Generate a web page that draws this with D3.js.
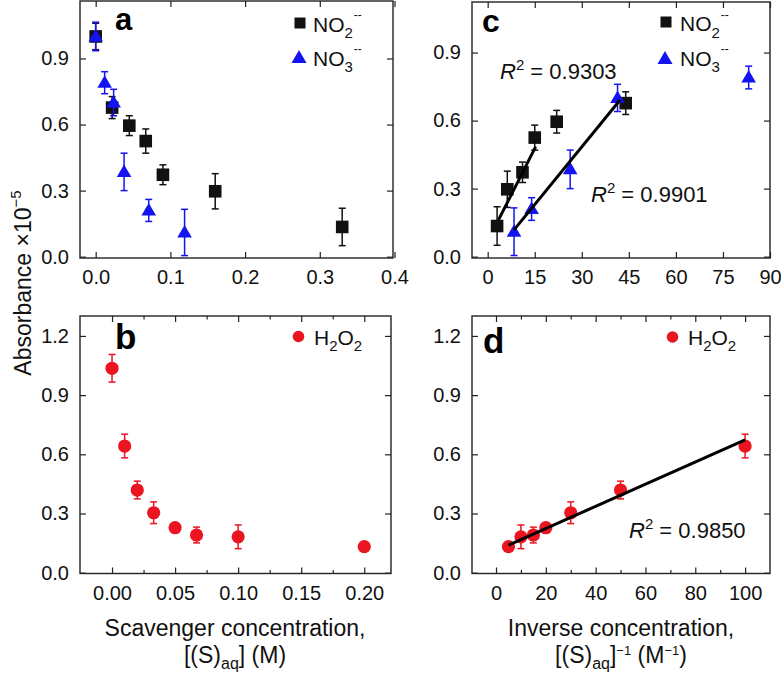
<!DOCTYPE html>
<html>
<head>
<meta charset="utf-8">
<script src="https://cdn.jsdelivr.net/npm/d3@7"></script>
<style>
  body { margin: 0; background: #fff; }
  svg { display: block; font-family: "Liberation Sans", Arial, Helvetica, sans-serif; }
</style>
</head>
<body>
<svg id="chart" width="781" height="676"></svg>
<script>
// ---- data ----
// panel a : absorbance vs scavenger concentration (M)
const aNo2X = [0, 0.022, 0.045, 0.067, 0.09, 0.16, 0.33];
const aNo2Y = [1.0, 0.677, 0.595, 0.525, 0.372, 0.297, 0.135];
const aNo2Err = [0.06, 0.05, 0.045, 0.055, 0.045, 0.08, 0.085];
const aNo3X = [0, 0.012, 0.024, 0.038, 0.071, 0.119];
const aNo3Y = [1.0, 0.79, 0.70, 0.385, 0.21, 0.11];
const aNo3Err = [0.065, 0.05, 0.06, 0.085, 0.05, 0.105];

// panel c : absorbance vs inverse concentration (1/M)
const cNo2X = [3, 6.25, 11.1, 15, 22, 44];
const cNo2Y = [0.135, 0.297, 0.372, 0.525, 0.595, 0.677];
const cNo2Err = [0.085, 0.08, 0.045, 0.055, 0.05, 0.05];
const cNo3X = [8.4, 14, 26.3, 41.4, 83.2];
const cNo3Y = [0.11, 0.21, 0.385, 0.70, 0.79];
const cNo3Err = [0.105, 0.05, 0.085, 0.06, 0.05];
const cFitNo2X = [3.45, 15.3], cFitNo2Y = [0.162, 0.485];
const cFitNo3X = [8.4, 42.2], cFitNo3Y = [0.118, 0.691];

// panel b : H2O2
const bX = [0, 0.01, 0.02, 0.033, 0.05, 0.067, 0.1, 0.2];
const bY = [1.036, 0.642, 0.419, 0.304, 0.228, 0.191, 0.182, 0.132];
const bErr = [0.07, 0.06, 0.045, 0.055, 0.02, 0.04, 0.06, 0.02];

// panel d : H2O2 vs inverse concentration
const dX = [5, 10, 15, 20, 30, 50, 100];
const dY = [0.132, 0.182, 0.191, 0.228, 0.304, 0.419, 0.642];
const dErr = [0.02, 0.06, 0.04, 0.02, 0.055, 0.045, 0.06];
const dFitX = [5, 100], dFitY = [0.14, 0.673];

// ticks
const aXTicks = [0, 0.1, 0.2, 0.3, 0.4];
const cXTicks = [0, 15, 30, 45, 60, 75, 90];
const bXTicks = [0, 0.05, 0.1, 0.15, 0.2];
const bXMinor = [0.025, 0.075, 0.125, 0.175];
const dXTicks = [0, 20, 40, 60, 80, 100];
const dXMinor = [10, 30, 50, 70, 90];
const topYTicks = [0, 0.3, 0.6, 0.9];
const botYTicks = [0, 0.3, 0.6, 0.9, 1.2];

const BLACK = "#111", BLUE = "#1414f0", RED = "#ea1520", FRAME = "#222";

const svg = d3.select("#chart");

function shape(sel, kind, color) {
  if (kind === "square") {
    sel.append("rect").attr("x", -6.3).attr("y", -6.3).attr("width", 12.6).attr("height", 12.6).attr("fill", color);
  } else if (kind === "triangle") {
    sel.append("path").attr("d", "M0,-7.5L7.3,5L-7.3,5Z").attr("fill", color);
  } else {
    sel.append("circle").attr("r", 6.6).attr("fill", color);
  }
}

function drawPanel(p) {
  const x = d3.scaleLinear().domain(p.xDomain).range([p.left, p.right]);
  const y = d3.scaleLinear().domain(p.yDomain).range([p.bottom, p.top]);
  const g = svg.append("g");
  const W = p.right - p.left, H = p.bottom - p.top;

  function styleAxis(ax) {
    ax.select(".domain").remove();
    ax.selectAll(".tick line").attr("stroke", FRAME).attr("stroke-width", 1.2);
    ax.attr("font-size", 20).attr("font-family", null).selectAll("text").attr("fill", "#111");
  }

  const bot = g.append("g").attr("transform", `translate(0,${p.bottom})`)
    .call(d3.axisBottom(x).tickValues(p.xTicks).tickFormat(p.xFmt).tickSize(-6).tickSizeOuter(0).tickPadding(12));
  styleAxis(bot);
  const top = g.append("g").attr("transform", `translate(0,${p.top})`)
    .call(d3.axisTop(x).tickValues(p.xTicks).tickFormat("").tickSize(-6).tickSizeOuter(0));
  styleAxis(top);
  if (p.xMinor) {
    styleAxis(g.append("g").attr("transform", `translate(0,${p.bottom})`)
      .call(d3.axisBottom(x).tickValues(p.xMinor).tickFormat("").tickSize(-3.5).tickSizeOuter(0)));
    styleAxis(g.append("g").attr("transform", `translate(0,${p.top})`)
      .call(d3.axisTop(x).tickValues(p.xMinor).tickFormat("").tickSize(-3.5).tickSizeOuter(0)));
  }
  const lft = g.append("g").attr("transform", `translate(${p.left},0)`)
    .call(d3.axisLeft(y).tickValues(p.yTicks).tickFormat(d3.format(".1f")).tickSize(-6).tickSizeOuter(0).tickPadding(11));
  styleAxis(lft);
  const rgt = g.append("g").attr("transform", `translate(${p.right},0)`)
    .call(d3.axisRight(y).tickValues(p.yTicks).tickFormat("").tickSize(-6).tickSizeOuter(0));
  styleAxis(rgt);

  g.append("rect").attr("x", p.left).attr("y", p.top).attr("width", W).attr("height", H)
    .attr("fill", "none").attr("stroke", FRAME).attr("stroke-width", 1.4);

  // series: error bars then markers
  p.series.forEach(s => {
    const pts = d3.zip(s.x, s.y, s.err);
    const eb = g.append("g").attr("stroke", s.color).attr("stroke-width", 1.5);
    pts.forEach(([vx, vy, e]) => {
      const cx = x(vx), y0 = y(Math.max(vy - e, p.yDomain[0])), y1 = y(vy + e);
      eb.append("line").attr("x1", cx).attr("x2", cx).attr("y1", y0).attr("y2", y1);
      eb.append("line").attr("x1", cx - 3.5).attr("x2", cx + 3.5).attr("y1", y0).attr("y2", y0);
      eb.append("line").attr("x1", cx - 3.5).attr("x2", cx + 3.5).attr("y1", y1).attr("y2", y1);
    });
    const mk = g.append("g").selectAll("g").data(pts).join("g")
      .attr("transform", d => `translate(${x(d[0])},${y(d[1])})`);
    shape(mk, s.shape, s.color);
  });

  // fitted lines
  (p.fits || []).forEach(f => {
    g.append("path").datum(d3.zip(f.x, f.y))
      .attr("d", d3.line().x(d => x(d[0])).y(d => y(d[1])))
      .attr("stroke", "#000").attr("stroke-width", 3).attr("fill", "none");
  });

  // panel letter
  g.append("text").attr("x", p.letterPos[0]).attr("y", p.letterPos[1])
    .attr("font-size", p.letterSize).attr("font-weight", "bold").attr("fill", "#000").text(p.letter);

  return { g, x, y };
}

function r2(g, px, py, val) {
  const t = g.append("text").attr("x", px).attr("y", py).attr("font-size", 22).attr("fill", "#111");
  t.append("tspan").attr("font-style", "italic").text("R");
  t.append("tspan").attr("font-size", 15).attr("dy", -9).text("2");
  t.append("tspan").attr("dy", 9).text(" = " + val);
}

function ionLegend(g, mx, my, shp, color, tx, ty, sub) {
  const m = g.append("g").attr("transform", `translate(${mx},${my})`);
  if (shp === "square") m.append("rect").attr("x", -5.5).attr("y", -5.5).attr("width", 11).attr("height", 11).attr("fill", color);
  else m.append("path").attr("d", "M0,-7L7.5,6L-7.5,6Z").attr("fill", color);
  const t = g.append("text").attr("x", tx).attr("y", ty).attr("font-size", 21).attr("fill", "#111");
  t.append("tspan").text("NO");
  t.append("tspan").attr("font-size", 15).attr("dy", 6.5).text(sub);
  t.append("tspan").attr("font-size", 12).attr("dy", -19).attr("dx", 1).text("--");
}

function h2o2Legend(g, mx, my, tx, ty) {
  g.append("circle").attr("cx", mx).attr("cy", my).attr("r", 5.8).attr("fill", RED);
  const t = g.append("text").attr("x", tx).attr("y", ty).attr("font-size", 21).attr("fill", "#111");
  t.append("tspan").text("H");
  t.append("tspan").attr("font-size", 15).attr("dy", 6).text("2");
  t.append("tspan").attr("dy", -6).text("O");
  t.append("tspan").attr("font-size", 15).attr("dy", 6).text("2");
}

// ---- panel a ----
const pa = drawPanel({
  left: 80, right: 393, top: 1, bottom: 258,
  xDomain: [-0.021, 0.398], yDomain: [-0.006, 1.161],
  xTicks: aXTicks, xFmt: d3.format(".1f"), yTicks: topYTicks,
  series: [
    { x: aNo2X, y: aNo2Y, err: aNo2Err, color: BLACK, shape: "square" },
    { x: aNo3X, y: aNo3Y, err: aNo3Err, color: BLUE, shape: "triangle" }
  ],
  letter: "a", letterPos: [115, 29.5], letterSize: 31
});
ionLegend(pa.g, 300, 23, "square", BLACK, 313, 31.5, "2");
ionLegend(pa.g, 299, 57, "triangle", BLUE, 313, 65.5, "3");

// ---- panel c ----
const pc = drawPanel({
  left: 472, right: 770, top: 2, bottom: 258,
  xDomain: [-5, 90], yDomain: [-0.006, 1.123],
  xTicks: cXTicks, xFmt: d3.format("d"), yTicks: topYTicks,
  series: [
    { x: cNo2X, y: cNo2Y, err: cNo2Err, color: BLACK, shape: "square" },
    { x: cNo3X, y: cNo3Y, err: cNo3Err, color: BLUE, shape: "triangle" }
  ],
  fits: [{ x: cFitNo2X, y: cFitNo2Y }, { x: cFitNo3X, y: cFitNo3Y }],
  letter: "c", letterPos: [482, 31.5], letterSize: 32
});
ionLegend(pc.g, 666, 22, "square", BLACK, 680, 31, "2");
ionLegend(pc.g, 665, 58, "triangle", BLUE, 680, 65.5, "3");
r2(pc.g, 500, 79, "0.9303");
r2(pc.g, 591, 202, "0.9901");

// ---- panel b ----
const pb = drawPanel({
  left: 80, right: 391, top: 316, bottom: 573.5,
  xDomain: [-0.0254, 0.2212], yDomain: [-0.004, 1.301],
  xTicks: bXTicks, xMinor: bXMinor, xFmt: d3.format(".2f"), yTicks: botYTicks,
  series: [{ x: bX, y: bY, err: bErr, color: RED, shape: "circle" }],
  letter: "b", letterPos: [115, 349], letterSize: 35
});
h2o2Legend(pb.g, 298.5, 336.5, 314, 345);

// ---- panel d ----
const pd = drawPanel({
  left: 472, right: 770, top: 316, bottom: 573.5,
  xDomain: [-9.64, 110], yDomain: [-0.004, 1.301],
  xTicks: dXTicks, xMinor: dXMinor, xFmt: d3.format("d"), yTicks: botYTicks,
  series: [{ x: dX, y: dY, err: dErr, color: RED, shape: "circle" }],
  fits: [{ x: dFitX, y: dFitY }],
  letter: "d", letterPos: [483, 353], letterSize: 35
});
h2o2Legend(pd.g, 672.5, 337, 688, 345);
r2(pd.g, 629, 538, "0.9850");

// ---- axis titles ----
const yt = svg.append("text").attr("transform", "translate(31,283) rotate(-90)")
  .attr("text-anchor", "middle").attr("font-size", 23).attr("fill", "#111");
yt.append("tspan").text("Absorbance \u00d710");
yt.append("tspan").attr("font-size", 15).attr("dy", -10).text("\u22125");

function xTitle(cx, line1, line2) {
  svg.append("text").attr("x", cx).attr("y", 635.5).attr("text-anchor", "middle")
    .attr("font-size", 23).attr("fill", "#111").text(line1);
  const t = svg.append("text").attr("x", cx).attr("y", 663).attr("text-anchor", "middle")
    .attr("font-size", 23).attr("fill", "#111");
  line2(t);
}

xTitle(235, "Scavenger concentration,", t => {
  t.append("tspan").text("[(S)");
  t.append("tspan").attr("font-size", 16).attr("dy", 6).text("aq");
  t.append("tspan").attr("dy", -6).text("] (M)");
});
xTitle(621, "Inverse concentration,", t => {
  t.append("tspan").text("[(S)");
  t.append("tspan").attr("font-size", 16).attr("dy", 6).text("aq");
  t.append("tspan").attr("dy", -6).text("]");
  t.append("tspan").attr("font-size", 13).attr("dy", -8).text("\u22121");
  t.append("tspan").attr("dy", 8).text(" (M");
  t.append("tspan").attr("font-size", 13).attr("dy", -8).text("\u22121");
  t.append("tspan").attr("dy", 8).text(")");
});
</script>
</body>
</html>
